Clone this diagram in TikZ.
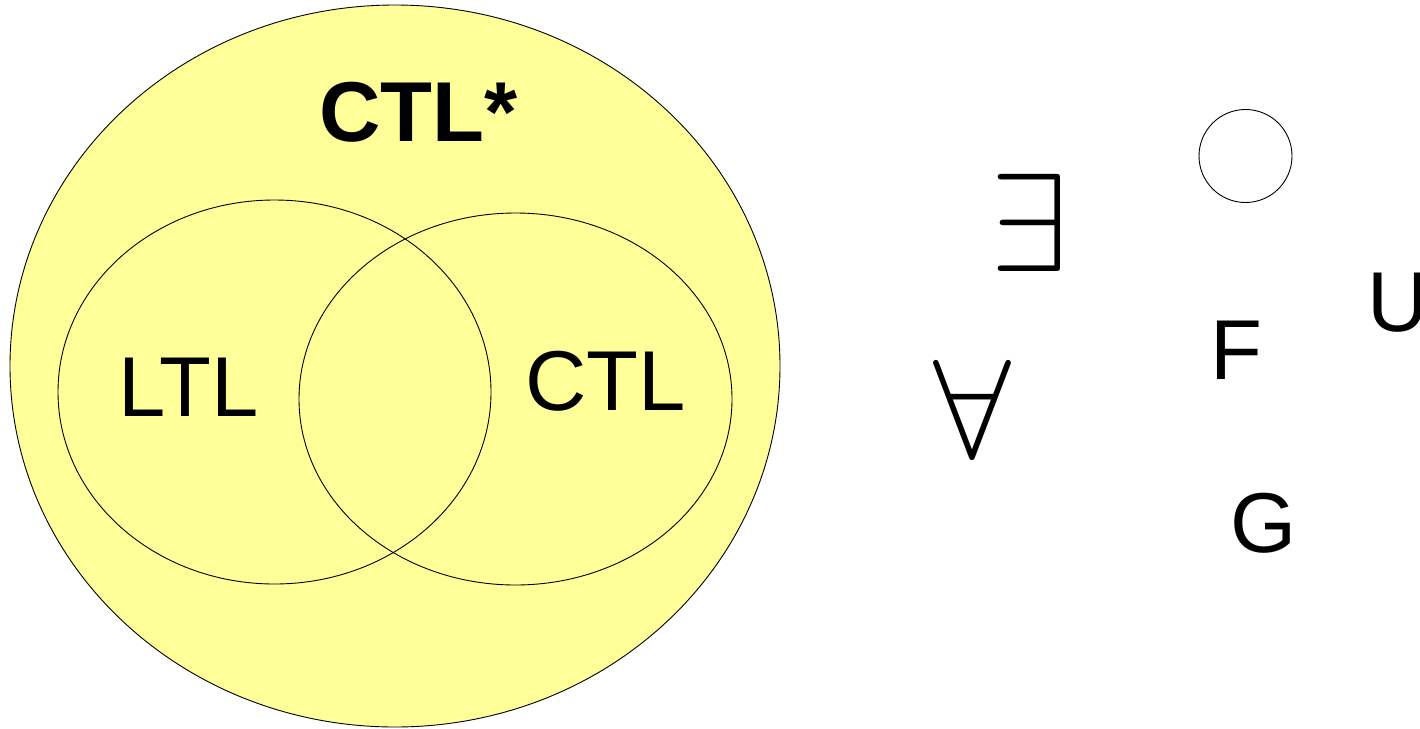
\documentclass[tikz,border=0pt]{standalone}
\usepackage{fontspec}
\usepackage{graphicx}
\setmainfont{Liberation Sans}
\definecolor{ctlyellow}{HTML}{FFFF99}
\tikzset{
  setline/.style={draw=black, line width=0.9pt},
  lbl/.style={inner sep=0pt, font=\fontsize{85}{100}\selectfont},
  sym/.style={inner sep=0pt},
}
\begin{document}
\begin{tikzpicture}[x=1pt,y=-1pt]
\useasboundingbox (0,0) rectangle (1420,728);
% big CTL* set
\path[setline, fill=ctlyellow] (395,366) ellipse [x radius=385, y radius=361];
% LTL and CTL sets
\path[setline] (274.5,392) ellipse [x radius=216.5, y radius=192];
\path[setline] (515.5,399) ellipse [x radius=216.5, y radius=186];
\node[lbl, font=\fontsize{85}{100}\selectfont\bfseries] (ctlstar) at (418.5,112) {CTL*};
\node[lbl] (ltl) at (189,387.5) {LTL};
\node[lbl] (ctl) at (605.5,381.5) {CTL};
% operators
\node[sym] (exists) at (1029,223) {\scalebox{14}{$\exists$}};
\node[sym] (forall) at (972.5,409) {\scalebox{14}{$\forall$}};
\draw[setline] (1245.5,156) circle [radius=46.5];
\node[lbl] (F) at (1236,350) {F};
\node[lbl] (U) at (1398,303) {U};
\node[lbl] (G) at (1264,523.5) {G};
\end{tikzpicture}
\end{document}
